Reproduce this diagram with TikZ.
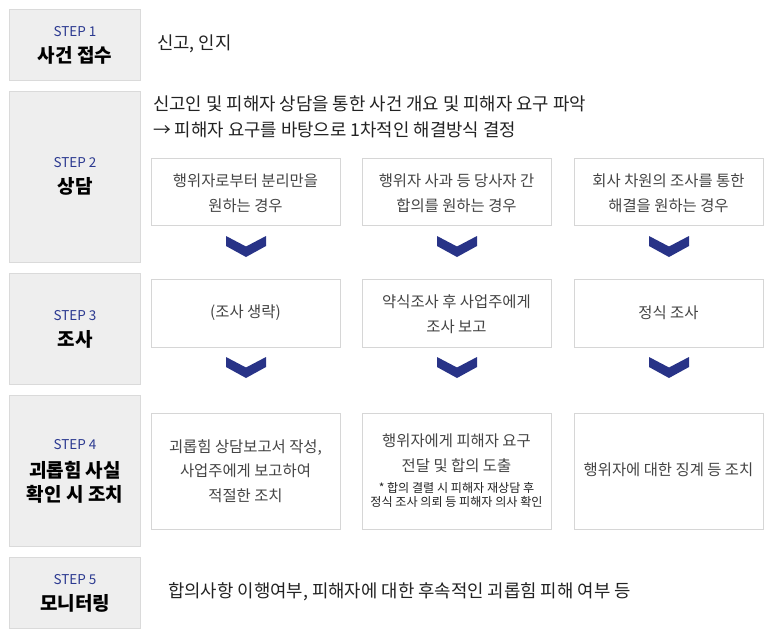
\documentclass[tikz,border=0pt]{standalone}
\usepackage{fontspec}
\setmainfont{Noto Sans CJK KR}
\definecolor{stepblue}{HTML}{2B3990}
\definecolor{chevblue}{HTML}{283387}
\definecolor{stepfill}{HTML}{EEEEEE}
\definecolor{stepline}{HTML}{DADADA}
\definecolor{boxline}{HTML}{D6D6D6}
\definecolor{bodytext}{HTML}{222222}
\definecolor{boxtext}{HTML}{444444}
\tikzset{
  stepbox/.style={draw=stepline, fill=stepfill, line width=1pt, anchor=north west, minimum width=131pt, inner sep=0pt},
  subbox/.style={draw=boxline, fill=white, line width=1pt, anchor=north west, minimum width=189pt, inner sep=0pt},
  steplabel/.style={text=stepblue, font=\fontsize{13.5}{15}\selectfont, inner sep=0pt},
  steptitle/.style={text=black, font=\fontsize{19}{24}\selectfont\bfseries, align=center, inner sep=0pt},
  bodytxt/.style={text=bodytext, font=\fontsize{17.8}{20}\selectfont, anchor=west, inner sep=0pt},
  boxtxt/.style={text=boxtext, font=\fontsize{15.4}{24.5}\selectfont, align=center, inner sep=0pt},
  smalltxt/.style={text=bodytext, font=\fontsize{12.1}{14}\selectfont, align=center, inner sep=0pt},
  chev/.pic={\fill[chevblue] (-20,0) -- (0,10.5) -- (20,0) -- (20,10) -- (0,21) -- (-20,10) -- cycle;}
}
\begin{document}
\begin{tikzpicture}[x=1pt,y=-1pt]
\useasboundingbox (0,0) rectangle (768,638);
% step boxes
\node[stepbox, minimum height=71pt] (s1) at (9,9) {};
\node[stepbox, minimum height=171pt] (s2) at (9,91) {};
\node[stepbox, minimum height=111pt] (s3) at (9,273) {};
\node[stepbox, minimum height=151pt] (s4) at (9,395) {};
\node[stepbox, minimum height=71pt] (s5) at (9,557) {};
% step labels
\node[steplabel] (l1) at (75,32) {STEP 1};
\node[steptitle] (t1) at (75,55.5) {사건 접수};
\node[steplabel] (l2) at (75,163) {STEP 2};
\node[steptitle] (t2) at (75,186.5) {상담};
\node[steplabel] (l3) at (75,316) {STEP 3};
\node[steptitle] (t3) at (75,339.5) {조사};
\node[steplabel] (l4) at (75,445) {STEP 4};
\node[steptitle] (t4) at (75,482) {괴롭힘 사실\\확인 시 조치};
\node[steplabel] (l5) at (75,580) {STEP 5};
\node[steptitle] (t5) at (75,603.5) {모니터링};
% body text
\node[bodytxt] (b1) at (157,43.5) {신고, 인지};
\node[bodytxt] (b2a) at (153,104) {신고인 및 피해자 상담을 통한 사건 개요 및 피해자 요구 파악};
\node[bodytxt] (b2b) at (153,130) {→ 피해자 요구를 바탕으로 1차적인 해결방식 결정};
\node[bodytxt] (b5) at (168,591.5) {합의사항 이행여부, 피해자에 대한 후속적인 괴롭힘 피해 여부 등};
% step 2 sub boxes
\node[subbox, minimum height=67pt] (a1) at (151,158) {};
\node[subbox, minimum height=67pt] (a2) at (362,158) {};
\node[subbox, minimum height=67pt] (a3) at (574,158) {};
\node[boxtxt] (a1t) at (245.5,193) {행위자로부터 분리만을\\원하는 경우};
\node[boxtxt] (a2t) at (456.5,193) {행위자 사과 등 당사자 간\\합의를 원하는 경우};
\node[boxtxt] (a3t) at (668.5,193) {회사 차원의 조사를 통한\\해결을 원하는 경우};
% step 3 sub boxes
\node[subbox, minimum height=68pt] (b1x) at (151,279) {};
\node[subbox, minimum height=68pt] (b2x) at (362,279) {};
\node[subbox, minimum height=68pt] (b3x) at (574,279) {};
\node[boxtxt] (b1t) at (245.5,313) {(조사 생략)};
\node[boxtxt] (b2t) at (456.5,314) {약식조사 후 사업주에게\\조사 보고};
\node[boxtxt] (b3t) at (668.5,313) {정식 조사};
% step 4 sub boxes
\node[subbox, minimum height=116pt] (c1) at (151,413) {};
\node[subbox, minimum height=116pt] (c2) at (362,413) {};
\node[subbox, minimum height=116pt] (c3) at (574,413) {};
\node[boxtxt] (c1t) at (245.5,471) {괴롭힘 상담보고서 작성,\\사업주에게 보고하여\\적절한 조치};
\node[boxtxt] (c2t) at (456.5,453) {행위자에게 피해자 요구\\전달 및 합의 도출};
\node[smalltxt] (c2s) at (456.5,495) {* 합의 결렬 시 피해자 재상담 후\\정식 조사 의뢰 등 피해자 의사 확인};
\node[boxtxt] (c3t) at (668.5,470) {행위자에 대한 징계 등 조치};
% chevrons
\pic at (246,236) {chev};
\pic at (457,236) {chev};
\pic at (669,236) {chev};
\pic at (246,357) {chev};
\pic at (457,357) {chev};
\pic at (669,357) {chev};
\end{tikzpicture}
\end{document}
